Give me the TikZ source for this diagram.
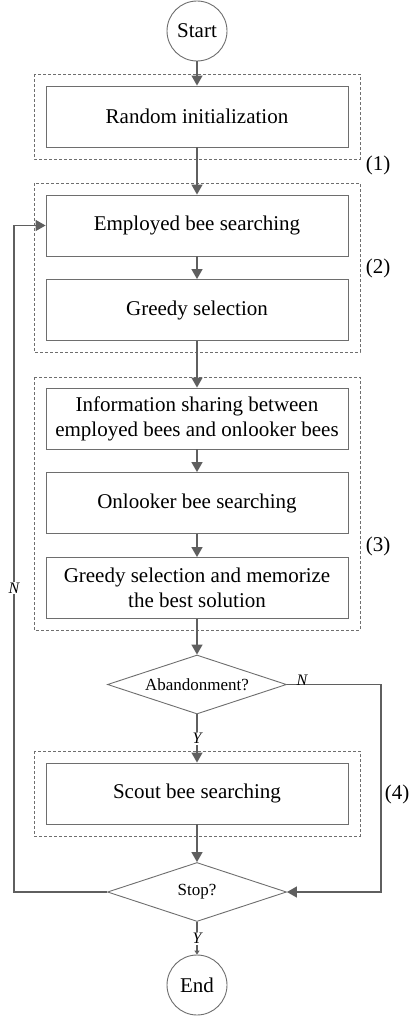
\documentclass[tikz,border=0pt]{standalone}
\usepackage{tikz}
\usepackage{xcolor}
\usepackage{fontspec}
\setmainfont{Liberation Serif}
\usetikzlibrary{shapes.geometric,arrows.meta}

\definecolor{linegray}{HTML}{5F5F5F}
\definecolor{boxgray}{HTML}{6E6E6E}

\begin{document}
\begin{tikzpicture}[x=1pt,y=-1pt,
  flow/.style={draw=linegray, line width=1.4pt, -{Triangle[length=10pt,width=11pt]}},
  procbox/.style={draw=boxgray, line width=0.9pt, fill=white, minimum width=302pt,
    minimum height=61pt, inner sep=0pt, align=center, font=\fontsize{21}{25}\selectfont},
  terminal/.style={circle, draw=boxgray, line width=0.9pt, fill=white, minimum size=60pt,
    inner sep=0pt, font=\fontsize{21}{25}\selectfont},
  decision/.style={diamond, aspect=3, draw=boxgray, line width=0.9pt, fill=white,
    minimum width=179pt, minimum height=59pt, inner sep=0pt, font=\fontsize{17}{20}\selectfont},
  group/.style={draw=boxgray, line width=0.8pt, dash pattern=on 3pt off 2pt},
  yn/.style={font=\fontsize{16}{18}\selectfont\itshape, inner sep=1pt},
  stage/.style={font=\fontsize{21}{25}\selectfont}]
  \useasboundingbox (0,0) rectangle (411,1022);

  % Draw the dashed stage frames
  \draw[group] (34,74) rectangle (360,159);
  \draw[group] (34,183) rectangle (360,352);
  \draw[group] (34,377) rectangle (360,630);
  \draw[group] (34,751) rectangle (360,836);

  % Place the steps
  \node[terminal] (start) at (197,31) {Start};
  \node[procbox] (init) at (197,116.5) {Random initialization};
  \node[procbox] (employed) at (197,225.5) {Employed bee searching};
  \node[procbox] (greedy) at (197,310) {Greedy selection};
  \node[procbox] (share) at (197,418.5) {Information sharing between\\employed bees and onlooker bees};
  \node[procbox] (onlooker) at (197,503) {Onlooker bee searching};
  \node[procbox] (memorize) at (197,588) {Greedy selection and memorize\\the best solution};
  \node[decision] (abandon) at (197,684.5) {Abandonment?};
  \node[procbox] (scout) at (197,793.5) {Scout bee searching};
  \node[decision] (stop) at (197,892) {Stop?};
  \node[terminal] (end) at (197,985) {End};

  % Stage numbers
  \node[stage] (s1) at (378,165) {(1)};
  \node[stage] (s2) at (378,268) {(2)};
  \node[stage] (s3) at (378,546) {(3)};
  \node[stage] (s4) at (397,794) {(4)};

  % Main flow
  \draw[flow] (start) -- (init);
  \draw[flow] (init) -- (employed);
  \draw[flow] (employed) -- (greedy);
  \draw[flow] (greedy) -- (share);
  \draw[flow] (share) -- (onlooker);
  \draw[flow] (onlooker) -- (memorize);
  \draw[flow] (memorize) -- (abandon);
  \draw[flow] (abandon) -- node[yn, fill=white] (ya) {Y} (scout);
  \draw[flow] (scout) -- (stop);
  \draw[draw=linegray, line width=1.2pt, -{Triangle[length=4pt,width=5pt]}]
    (stop) -- node[yn, fill=white] (ys) {Y} (end);

  % Side branches
  \coordinate (rside) at (381,684.5);
  \coordinate (lside) at (14,892);
  \draw[flow] (abandon.east) -- (rside) |- (stop.east);
  \node[yn] (na) at (302,680) {N};
  \draw[flow] (stop.west) -- (lside) |- (employed.west);
  \node[yn, fill=white] (nl) at (14,588) {N};
\end{tikzpicture}
\end{document}
